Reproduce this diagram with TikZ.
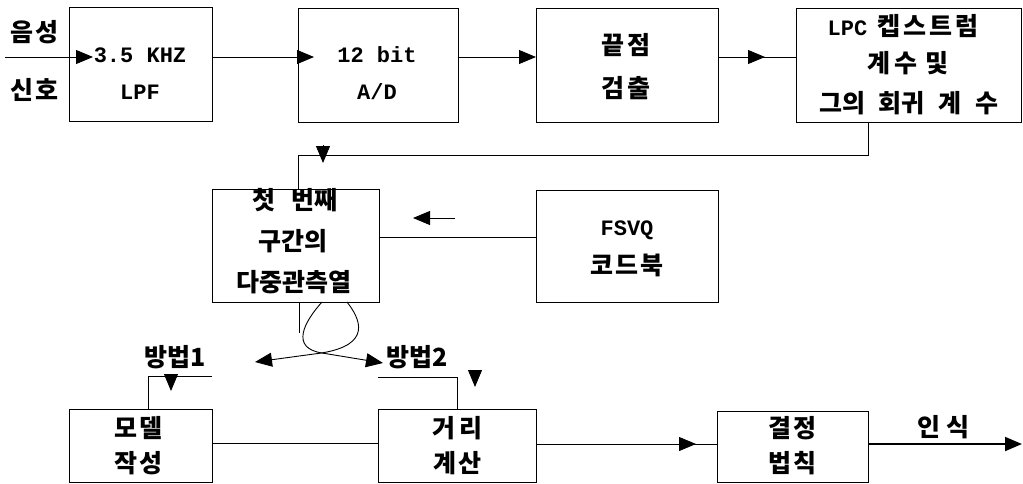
\documentclass[tikz,border=0pt]{standalone}
\usepackage{fontspec}
\usetikzlibrary{arrows.meta,calc}
\setmainfont{Liberation Mono}
\newfontfamily\kr{Noto Sans CJK KR}
\newcommand\K[1]{{\kr\bfseries\fontsize{25}{28}\selectfont #1}}
\newcommand\g[1]{\hspace{#1pt}}
\tikzset{
  x=1pt,y=-1pt,
  box/.style={draw,line width=1.1pt,rectangle,inner sep=0pt,anchor=north west},
  txt/.style={inner sep=0pt,font=\fontsize{22}{26}\selectfont\bfseries},
  ln/.style={line width=0.9pt},
  arr/.style={line width=0.9pt,-{Triangle[length=17pt,width=14pt]}},
}
\begin{document}
\begin{tikzpicture}
\useasboundingbox (0,0) rectangle (1023,483);
% boxes
\node[box,minimum width=143pt,minimum height=114pt] (lpf) at (69,7) {};
\node[box,minimum width=160pt,minimum height=114pt] (ad) at (298,8) {};
\node[box,minimum width=182pt,minimum height=114pt] (ep) at (536,8) {};
\node[box,minimum width=225pt,minimum height=114pt] (lpc) at (796,8) {};
\node[box,minimum width=167pt,minimum height=113pt] (obs) at (212,189) {};
\node[box,minimum width=182pt,minimum height=112pt] (fsvq) at (536,190) {};
\node[box,minimum width=143pt,minimum height=73pt] (model) at (69,409) {};
\node[box,minimum width=158pt,minimum height=73pt] (dist) at (378,409) {};
\node[box,minimum width=151pt,minimum height=71pt] (dec) at (717,411) {};
% texts
\node[txt] (t1) at (34,32) {\K{음\g{2}성}};
\node[txt] (t2) at (34,90) {\K{신\g{2}호}};
\node[txt] (t3) at (140,55) {3.5 KHZ};
\node[txt] (t4) at (140,92) {LPF};
\node[txt] (t5) at (377,55) {12 bit};
\node[txt] (t6) at (377,92) {A/D};
\node[txt] (t7) at (626,45) {\K{끝\g{3}점}};
\node[txt] (t8) at (626,88) {\K{검\g{3}출}};
\node[txt] (t9) at (903,26) {LPC\g{10}\K{켑\g{3}스\g{3}트\g{3}럼}};
\node[txt] (t10) at (908,63) {\K{계\g{4}수\g{8}및}};
\node[txt] (t11) at (909,103) {\K{그의\g{13}회귀\g{14}계\g{14}수}};
\node[txt] (t12) at (295,200) {\K{첫\g{16}번째}};
\node[txt] (t13) at (293,241) {\K{구간의}};
\node[txt] (t14) at (294,282) {\K{다중관측열}};
\node[txt] (t15) at (627,230) {FSVQ};
\node[txt] (t16) at (627,265) {\K{코\g{2}드\g{2}북}};
\node[txt] (t17) at (138,428) {\K{모\g{2}델}};
\node[txt] (t18) at (138,463) {\K{작\g{2}성}};
\node[txt] (t19) at (457,428) {\K{거\g{4}리}};
\node[txt] (t20) at (457,463) {\K{계\g{2}산}};
\node[txt] (t21) at (792,428) {\K{결\g{2}정}};
\node[txt] (t22) at (792,463) {\K{법\g{2}칙}};
\node[txt] (m1) at (175,357) {\K{방법1}};
\node[txt] (m2) at (417,357) {\K{방법2}};
\node[txt] (rec) at (943,427) {\K{인\g{6}식}};
% coordinates
\coordinate (in) at (5,57);
\coordinate (inTip) at (93,57);
\coordinate (adTip) at (314,57);
\coordinate (lpcTip) at (765,57);
\coordinate (fbA) at (868,122);
\coordinate (fbB) at (298,155);
\coordinate (fbArrA) at (323,145);
\coordinate (fbArrB) at (323,163);
\coordinate (fl) at (0,237);
\coordinate (sArrA) at (455,218);
\coordinate (sArrB) at (413,218);
\coordinate (lpA) at (322,302);
\coordinate (lpB) at (347,302);
\coordinate (lpV) at (299,333);
\coordinate (tip2) at (383,363);
\coordinate (tip1) at (255,362);
\coordinate (b1a) at (212,376);
\coordinate (b1b) at (148,376);
\coordinate (b1arrA) at (171,374);
\coordinate (b1arrB) at (171,391);
\coordinate (b2a) at (378,377);
\coordinate (b2b) at (457,377);
\coordinate (b2arrA) at (475,370);
\coordinate (b2arrB) at (475,387);
\coordinate (dArrA) at (643,444);
\coordinate (dArrB) at (696,444);
\coordinate (out) at (1022,444);
% connectors
\draw[arr] (in) -- (inTip);
\draw[ln] (lpf.east |- in) -- (ad.west |- in);
\draw[arr] (ad.west |- in) -- (adTip);
\draw[arr] (ad.east |- in) -- (ep.west |- in);
\draw[ln] (ep.east |- in) -- (lpc.west |- in);
\draw[arr] (ep.east |- in) -- (lpcTip);
\draw[ln] (fbA) |- (fbB) -- (obs.north -| fbB);
\draw[arr] (fbArrA) -- (fbArrB);
\draw[ln] (fsvq.west |- fl) -- (obs.east |- fl);
\draw[arr] (sArrA) -- (sArrB);
\draw[ln] (obs.south -| lpV) -- (lpV);
\draw[arr] (lpA) .. controls (304,322) and (290,348) .. (322,353) -- (tip2);
\draw[arr] (lpB) .. controls (366,326) and (366,348) .. (314,354) -- (tip1);
\draw[ln] (b1a) -- (b1b) -- (model.north -| b1b);
\draw[arr] (b1arrA) -- (b1arrB);
\draw[ln] (b2a) -- (b2b) -- (dist.north -| b2b);
\draw[arr] (b2arrA) -- (b2arrB);
\draw[ln] (model.east |- 0,443) -- (dist.west |- 0,443);
\draw[ln] (dist.east |- dArrA) -- (dec.west |- dArrA);
\draw[arr] (dArrA) -- (dArrB);
\draw[arr,line width=1.8pt] (dec.east |- out) -- (out);
\end{tikzpicture}
\end{document}
